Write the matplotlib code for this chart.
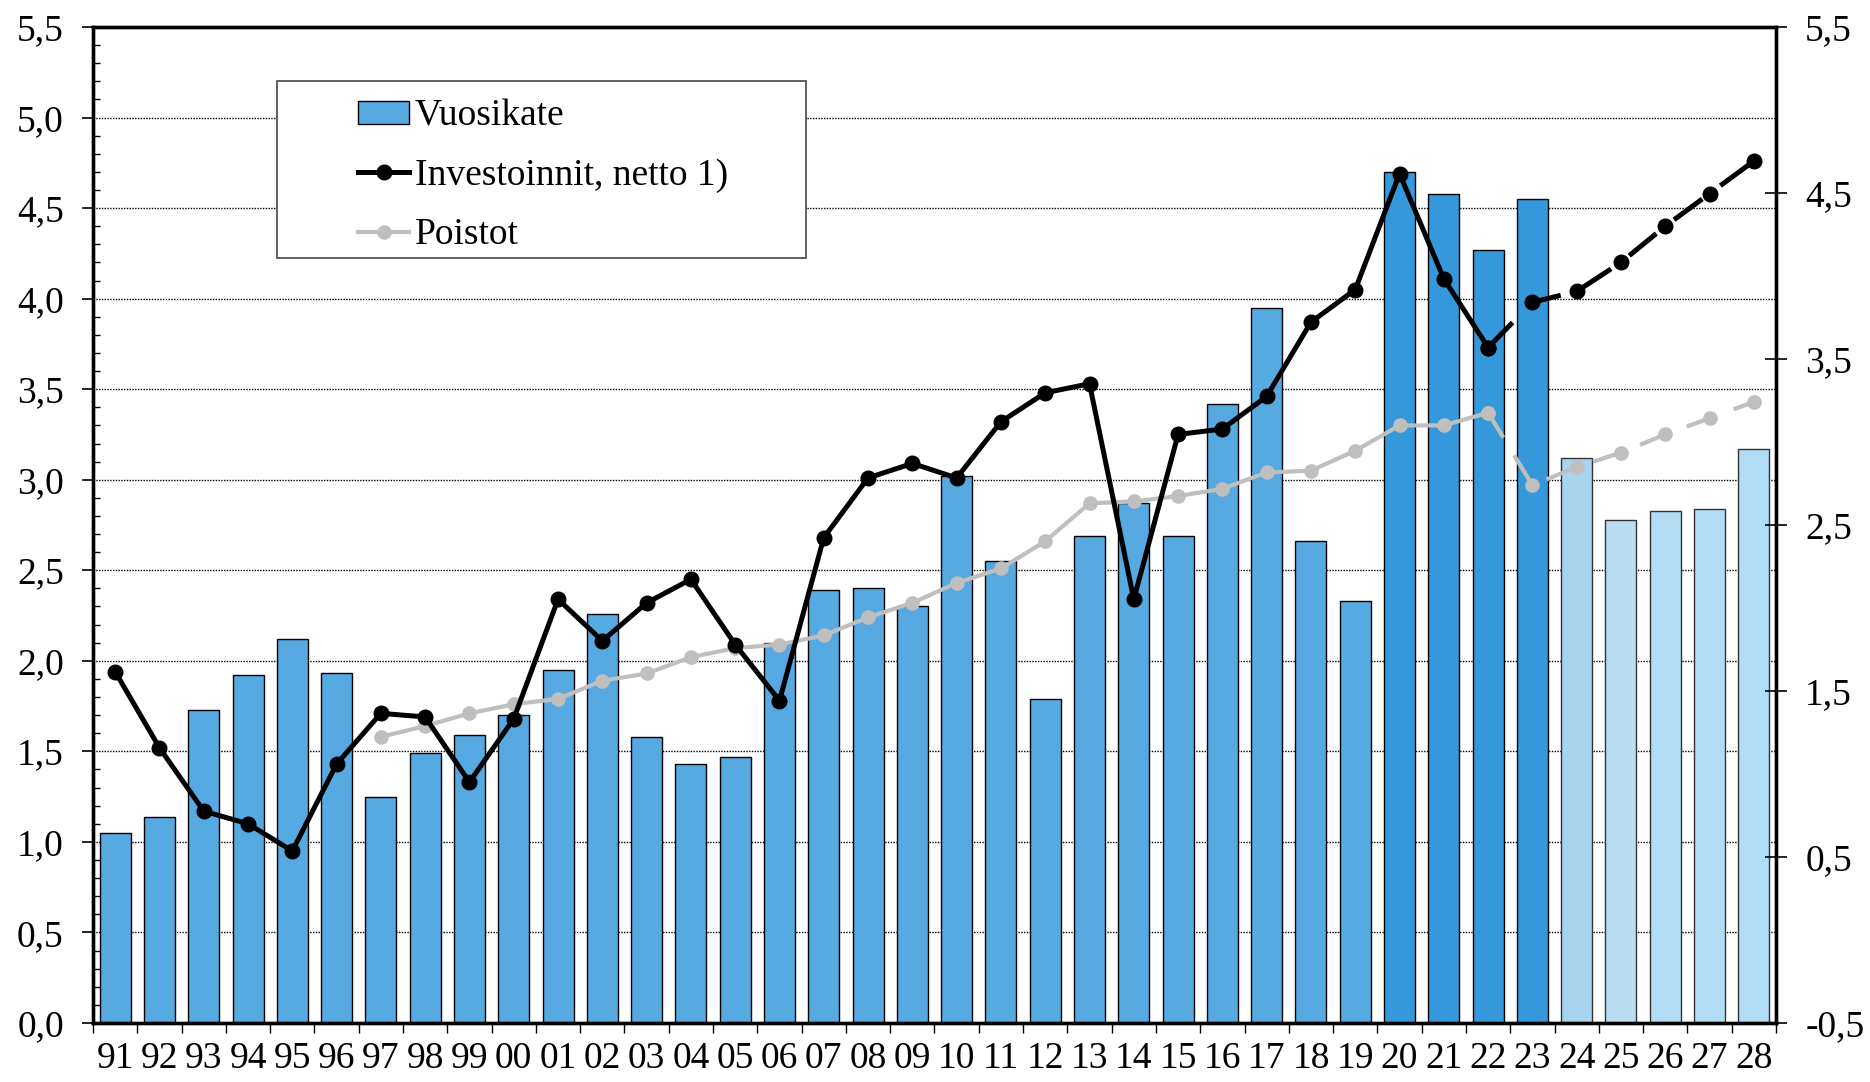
import matplotlib
matplotlib.use("Agg")
import matplotlib.pyplot as plt
from matplotlib.patches import Rectangle
from matplotlib.lines import Line2D
from matplotlib.ticker import MultipleLocator, FixedLocator, FuncFormatter
import numpy as np

years = ["91", "92", "93", "94", "95", "96", "97", "98", "99", "00",
         "01", "02", "03", "04", "05", "06", "07", "08", "09", "10",
         "11", "12", "13", "14", "15", "16", "17", "18", "19", "20",
         "21", "22", "23", "24", "25", "26", "27", "28"]

vuosikate = [1.05, 1.14, 1.73, 1.92, 2.12, 1.93, 1.25, 1.49, 1.59, 1.70,
             1.95, 2.26, 1.58, 1.43, 1.47, 2.10, 2.39, 2.40, 2.30, 3.02,
             2.55, 1.79, 2.69, 2.87, 2.69, 3.42, 3.95, 2.66, 2.33, 4.70,
             4.58, 4.27, 4.55, 3.12, 2.78, 2.83, 2.84, 3.17]

investoinnit = [1.94, 1.52, 1.17, 1.10, 0.95, 1.43, 1.71, 1.69, 1.33, 1.68,
                2.34, 2.11, 2.32, 2.45, 2.09, 1.78, 2.68, 3.01, 3.09, 3.01,
                3.32, 3.48, 3.53, 2.34, 3.25, 3.28, 3.46, 3.87, 4.05, 4.69,
                4.11, 3.73, 3.98, 4.04, 4.20, 4.40, 4.58, 4.76]

poistot_years = years[6:]
poistot = [1.58, 1.64, 1.71, 1.76, 1.79, 1.89, 1.93, 2.02, 2.07, 2.09,
           2.14, 2.24, 2.32, 2.43, 2.51, 2.66, 2.87, 2.88, 2.91, 2.95,
           3.04, 3.05, 3.16, 3.30, 3.30, 3.37, 2.97, 3.07, 3.15, 3.25,
           3.34, 3.43]

last_actual = "22"      # lines are dashed after this year
labels = ["Vuosikate", "Investoinnit, netto 1)", "Poistot"]

FONT = "Liberation Serif"
plt.rcParams['font.family'] = [FONT, 'DejaVu Serif']

W, H = 1870, 1082
fig = plt.figure(figsize=(W / 100, H / 100), dpi=100)
L, R, T, B = 93, 1776, 27, 1023
ax = fig.add_axes([L / W, 1 - B / H, (R - L) / W, (B - T) / H])

x = np.arange(len(years))

# bar colours by period
col_hist = "#56A9E1"
col_recent = "#3598DB"
col_fc = ["#A9D4EE", "#BBDDF2", "#B1DCF4", "#B1DCF4", "#B1DCF4"]
colors = []
for i, y in enumerate(years):
    if i < years.index("20"):
        colors.append(col_hist)
    elif i <= years.index("23"):
        colors.append(col_recent)
    else:
        colors.append(col_fc[i - years.index("24")])
edges = ["#000000" if i <= years.index("23") else "#333333" for i in range(len(years))]

ax.bar(x, vuosikate, width=0.7, color=colors, edgecolor=edges, linewidth=1.0, zorder=2)

# lines
k = years.index(last_actual)
inv = np.array(investoinnit)
ax.plot(x[:k + 1], inv[:k + 1], color="black", lw=3.6, marker="o", ms=10.5,
        zorder=4, solid_capstyle="butt")
ax.plot(x[k:], inv[k:], color="black", lw=3.6, marker="o", ms=10.5,
        zorder=4, dashes=(7, 4.5), dash_capstyle="butt")

px = np.array([years.index(y) for y in poistot_years])
po = np.array(poistot)
kp = list(px).index(k)
ax.plot(px[:kp + 1], po[:kp + 1], color="#BFBFBF", lw=3.0, marker="o", ms=9.5, zorder=3)
ax.plot(px[kp:], po[kp:], color="#BFBFBF", lw=3.0, marker="o", ms=9.5, zorder=3,
        dashes=(7, 5), dash_capstyle="butt")

# axes
ax.set_xlim(-0.5, len(years) - 0.5)
ax.set_ylim(0, 5.5)
ax.set_yticks(np.arange(0, 5.51, 0.5))
ax.yaxis.set_major_formatter(FuncFormatter(lambda v, p: f"{v:.1f}".replace(".", ",")))
ax.yaxis.set_minor_locator(MultipleLocator(0.1))
ax.tick_params(axis="y", which="major", direction="out", length=8, width=1.2,
               pad=13, labelsize=27, colors="black")
ax.tick_params(axis="y", which="minor", direction="in", length=5, width=1.0)
ax.set_xticks(x)
ax.set_xticklabels(years)
ax.xaxis.set_minor_locator(FixedLocator(np.arange(-0.5, len(years), 1.0)))
ax.tick_params(axis="x", which="major", length=0, pad=13, labelsize=27)
ax.tick_params(axis="x", which="minor", direction="out", length=7, width=1.0)

for yv in np.arange(0.5, 5.01, 0.5):
    ax.axhline(yv, color="black", lw=1.0, ls=(0, (1, 1)), zorder=1)

for s in ax.spines.values():
    s.set_linewidth(2.4)
    s.set_color("black")

ax2 = ax.twinx()
ax2.set_ylim(-0.5, 5.5)
ax2.set_yticks(np.arange(-0.5, 5.51, 1.0))
ax2.yaxis.set_major_formatter(FuncFormatter(lambda v, p: f"{v:.1f}".replace(".", ",")))
ax2.tick_params(axis="y", direction="inout", length=16, width=1.2, pad=13,
                labelsize=27, colors="black")
for s in ax2.spines.values():
    s.set_linewidth(2.4)

# legend box
bx0, by0, bx1, by1 = 277, 81, 806, 258
box = Rectangle(((bx0 - L) / (R - L), 1 - (by1 - T) / (B - T)),
                (bx1 - bx0) / (R - L), (by1 - by0) / (B - T),
                transform=ax.transAxes, facecolor="white", edgecolor="#555555",
                lw=1.3, zorder=6)
ax.add_patch(box)

handles = [
    Rectangle((0, 0), 1, 1, facecolor=col_hist, edgecolor="black", lw=1.0),
    Line2D([], [], color="black", lw=3.6, marker="o", ms=10.5),
    Line2D([], [], color="#BFBFBF", lw=3.0, marker="o", ms=9.5),
]
leg = ax.legend(handles, labels, loc="upper left",
                bbox_to_anchor=((358 - L) / (R - L), 1 - (99 - T) / (B - T)),
                frameon=False, fontsize=27, handlelength=1.36, handletextpad=0.16,
                handleheight=0.55, labelspacing=0.66, borderpad=0, borderaxespad=0)
leg.set_zorder(7)

fig.savefig("out.png", dpi=100)
